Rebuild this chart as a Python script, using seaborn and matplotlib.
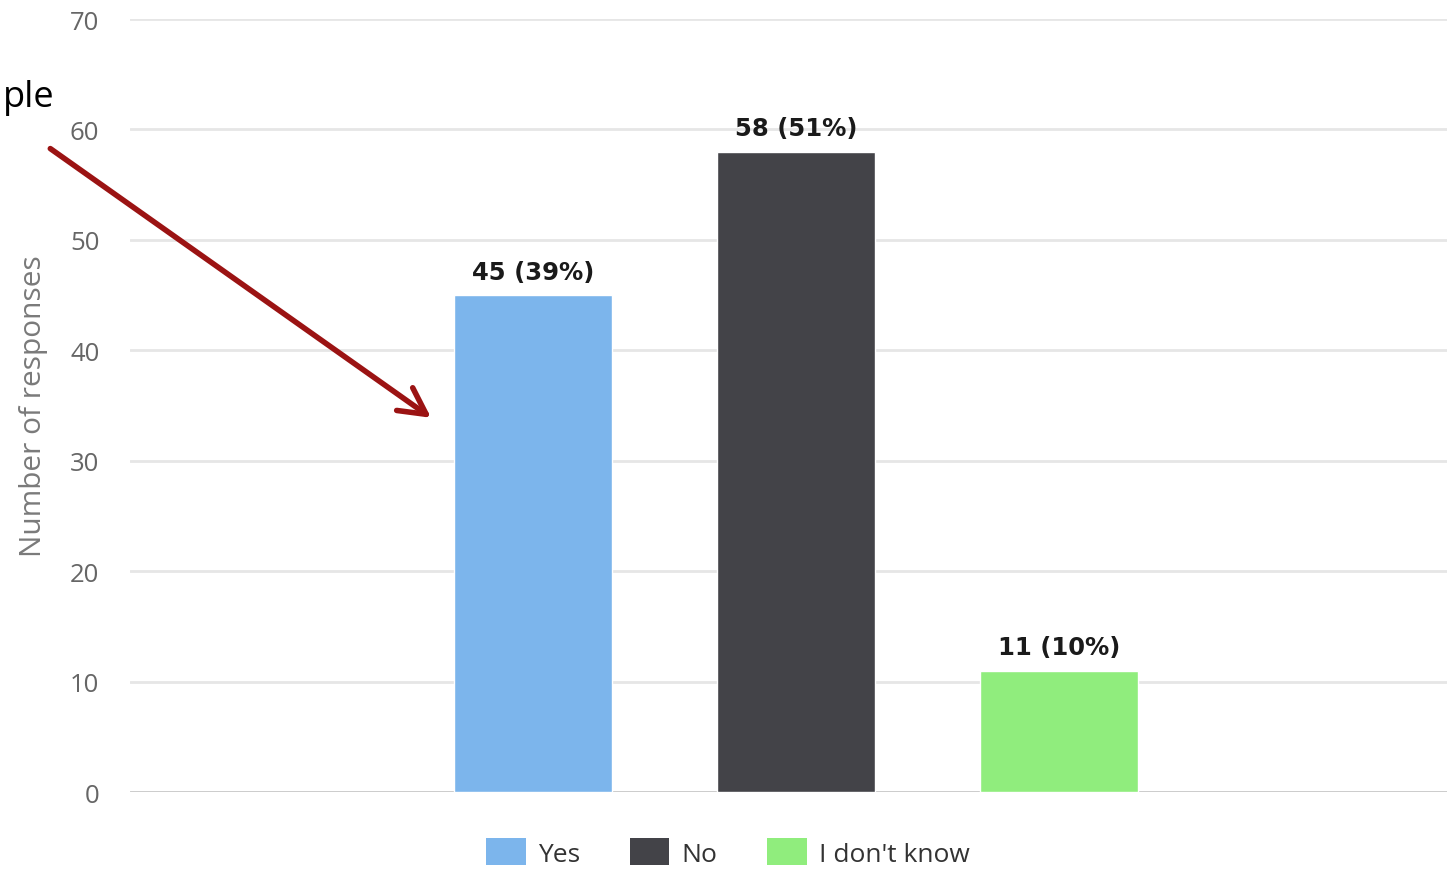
import matplotlib
matplotlib.use("Agg")
import matplotlib.pyplot as plt
from matplotlib.patches import Patch, FancyArrowPatch
import seaborn as sns
import pandas as pd

# Survey answers
answers = ["Yes", "No", "I don't know"]
counts = [45, 58, 11]
percents = [39, 51, 10]
bar_colors = ["#7cb5ec", "#434348", "#90ed7d"]
y_ticks = [0, 10, 20, 30, 40, 50, 60, 70]

sns.set_theme(style="white")
plt.rcParams["font.family"] = ["Open Sans", "DejaVu Sans"]

df = pd.DataFrame({"answer": answers, "count": counts})

fig = plt.figure(figsize=(14.47, 8.70), dpi=100)
ax = fig.add_axes([0.0898, 0.0885, 0.9102, 0.8885])

sns.barplot(data=df, x="answer", y="count", hue="answer", palette=bar_colors,
            hue_order=answers, order=answers, width=0.6, dodge=False,
            legend=False, saturation=1, ax=ax)

ax.set_ylim(0, 70)
ax.set_xlim(-1.532, 3.475)
ax.set_yticks(y_ticks)
ax.set_yticklabels([str(t) for t in y_ticks], fontsize=18.5, color="#666666")
ax.set_xticks([])
ax.set_xlabel("")
ax.set_ylabel("Number of responses", fontsize=21.5, color="#7a7a7a", labelpad=16)
ax.tick_params(axis="y", length=0, pad=22)

# horizontal grid
for t in y_ticks[1:]:
    ax.axhline(t, color="#e6e6e6", lw=2, zorder=0)
ax.axhline(0, color="#c8c8c8", lw=2, zorder=0)
for s in ax.spines.values():
    s.set_visible(False)

# value labels on bars
for container, c, p in zip(ax.containers, counts, percents):
    ax.bar_label(container, labels=[f"{c} ({p}%)"], padding=8,
                 fontsize=17.5, fontweight="bold", color="#1a1a1a",
                 family="DejaVu Sans")

# legend below the plot
handles = [Patch(facecolor=col, edgecolor="none") for col in bar_colors]
fig.legend(handles, answers, loc="center", bbox_to_anchor=(0.503, 0.019),
           ncol=3, frameon=False, fontsize=19, labelcolor="#333333",
           handlelength=1.5, handleheight=1.2, handletextpad=0.45,
           columnspacing=1.9)

# callout arrow with partial caption
fig.text(0.038, 1 - 107 / 870, "ple", fontsize=26, color="black",
         ha="right", va="baseline")
arrow = FancyArrowPatch((0.0332, 0.8299), (0.2995, 0.5168),
                        transform=fig.transFigure,
                        arrowstyle="->,head_length=19,head_width=10",
                        color="#9b1313", lw=4, mutation_scale=1)
fig.add_artist(arrow)

fig.savefig("out.png", dpi=100)
